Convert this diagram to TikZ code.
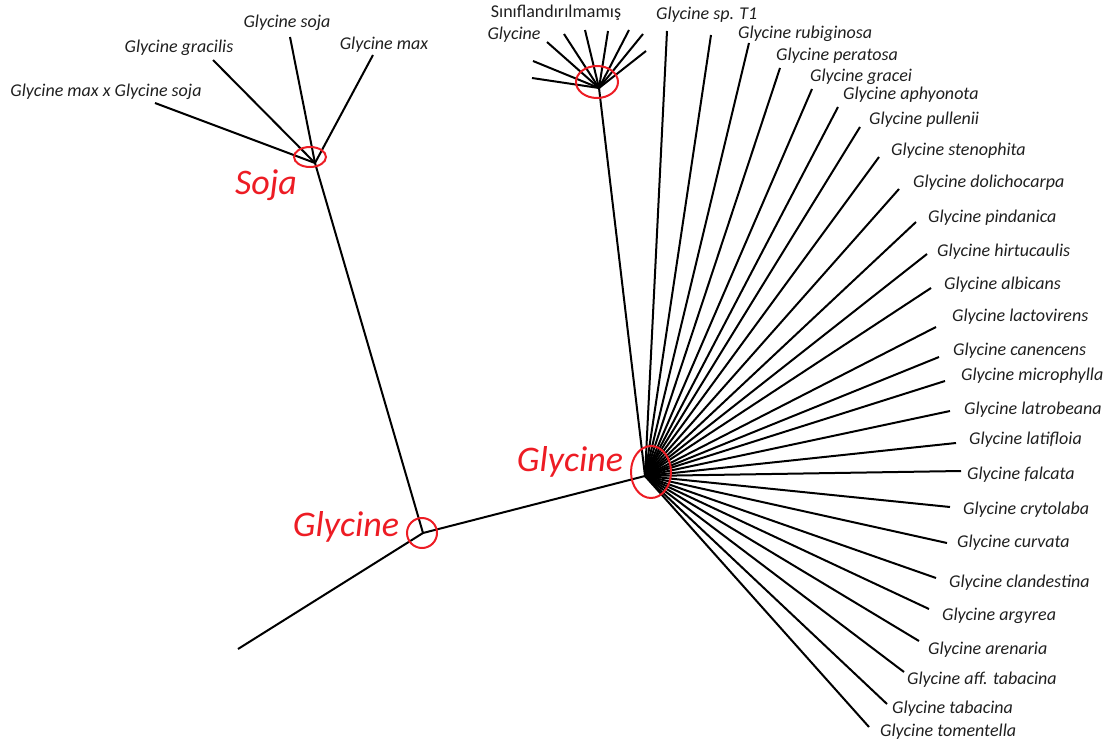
\documentclass[tikz,border=0pt]{standalone}
\usepackage{fontspec}
\setmainfont{Carlito}
\definecolor{cladered}{RGB}{237,28,36}

\begin{document}
\begin{tikzpicture}[x=1pt,y=-1pt,
  branch/.style={draw=black,line width=2pt},
  ring/.style={draw=cladered,line width=2pt},
  leaf/.style={font=\fontsize{18}{20}\selectfont\itshape,text=black!88,inner sep=0pt},
  clade/.style={font=\fontsize{36}{40}\selectfont\itshape,text=cladered,inner sep=0pt},
]
\useasboundingbox (0,0) rectangle (1117,744);
% inner nodes of the tree
\coordinate (root) at (423,533);
\coordinate (stem) at (238,649);
\coordinate (soja) at (315,163);
\coordinate (hub) at (645,476);
\coordinate (unc) at (599,88);
\draw[branch] (stem) -- (root) -- (hub);
\draw[branch] (root) -- (soja);
\draw[branch] (hub) -- (unc);
% Soja clade
\coordinate (s1) at (155,103);
\coordinate (s2) at (213,60);
\coordinate (s3) at (290,37);
\coordinate (s4) at (373,55);
\foreach \i in {1,...,4}
  \draw[branch] (soja) -- (s\i);
\node[leaf] (maxsoja) at (106,92) {Glycine max x Glycine soja};
\node[leaf] (gracilis) at (179,48) {Glycine gracilis};
\node[leaf] (sojaleaf) at (287,23) {Glycine soja};
\node[leaf] (max) at (384,45) {Glycine max};
% unclassified Glycine
\foreach \x/\y [count=\i] in {532/78,533/61,547/42,564/34,585/30,608/31,629/30,643/34,646/51}
  {\coordinate (u\i) at (\x,\y);
   \draw[branch] (unc) -- (u\i);}
\node[leaf,font=\fontsize{18}{20}\selectfont] (unclab) at (556,13) {Sınıflandırılmamış};
\node[leaf] (unclab2) at (514,35) {Glycine};
% Glycine fan
\foreach \x/\y [count=\i] in {667/31,711/35,749/43,780/68,812/89,838/107,860/127,
    879/157,899/189,916/222,927/254,931/288,936/327,939/357,945/381,
    950/411,956/443,961/471,950/507,947/543,936/578,929/609,919/641,
    904/672,887/704,869/727}
  {\coordinate (f\i) at (\x,\y);
   \draw[branch] (hub) -- (f\i);}
\foreach \x/\y/\t [count=\i] in {656/15/sp. T1,738/34/rubiginosa,776/56/peratosa,
    810/77/gracei,843/95/aphyonota,869/120/pullenii,891/151/stenophita,
    913/183/dolichocarpa,928/218/pindanica,937/252/hirtucaulis,944/285/albicans,
    952/317/lactovirens,953/351/canencens,961/376/microphylla,964/410/latrobeana,
    969/440/latifloia,967/475/falcata,963/510/crytolaba,957/543/curvata,
    949/583/clandestina,942/616/argyrea,928/650/arenaria,907/680/aff. tabacina,
    892/709/tabacina,880/732/tomentella}
  \node[leaf,anchor=west] (g\i) at (\x,\y) {Glycine \t};
% clade marks
\draw[ring] (310,157) ellipse [x radius=16,y radius=10];
\draw[ring] (422,533) circle (15);
\draw[ring] (651,472) ellipse [x radius=20,y radius=26];
\draw[ring] (597,82) ellipse [x radius=21,y radius=16];
\node[clade] (sojatag) at (266,185) {Soja};
\node[clade] (roottag) at (346,527) {Glycine};
\node[clade] (hubtag) at (570,462) {Glycine};
\end{tikzpicture}
\end{document}
